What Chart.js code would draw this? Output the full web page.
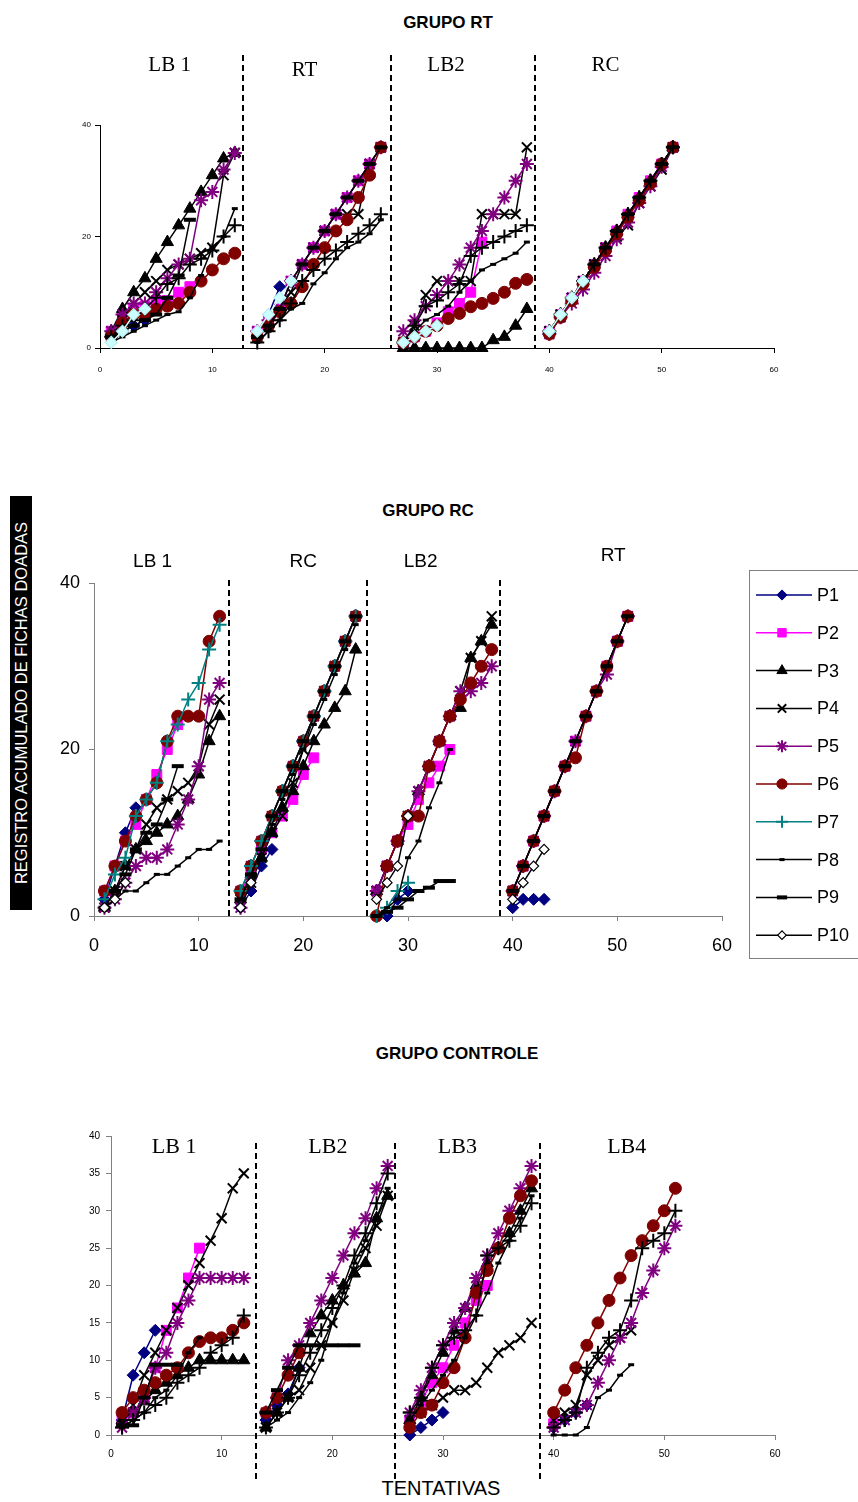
<!DOCTYPE html>
<html>
<head>
<meta charset="utf-8">
<script src="https://cdn.jsdelivr.net/npm/chart.js@4.4.1/dist/chart.umd.min.js"></script>
<style>
  body { margin: 0; background: #fff; width: 858px; height: 1502px; position: relative; overflow: hidden; font-family: Arial, "Liberation Sans", sans-serif; }
  .panel { position: absolute; left: 0; }
  .title { position: absolute; font-weight: bold; font-size: 17px; transform: translate(-50%, -50%); white-space: nowrap; }
  .ytitle { position: absolute; left: -186px; top: 692px; width: 414px; height: 22px; line-height: 22px; background: #000; color: #fff;
            font-size: 16.5px; text-align: center; white-space: nowrap; transform: rotate(-90deg); }
  .xtitle { position: absolute; left: 441px; top: 1488px; font-size: 20px; transform: translate(-50%, -50%); }
</style>
</head>
<body>
<div class="title" style="left:448px;top:23px">GRUPO RT</div>
<div class="title" style="left:428px;top:511px">GRUPO RC</div>
<div class="title" style="left:457px;top:1054px">GRUPO CONTROLE</div>
<div class="ytitle">REGISTRO ACUMULADO DE FICHAS DOADAS</div>
<div class="xtitle">TENTATIVAS</div>

<div class="panel" style="top:0"><canvas id="chartRT" width="858" height="390"></canvas></div>
<div class="panel" style="top:480px"><canvas id="chartRC" width="858" height="495"></canvas></div>
<div class="panel" style="top:1090px"><canvas id="chartCT" width="858" height="412"></canvas></div>

<script>
// first trial of each phase on the x axis
const trialStarts = [1, 14, 27, 40];
const participants = ['P1', 'P2', 'P3', 'P4', 'P5', 'P6', 'P7', 'P8', 'P9', 'P10'];

// GRUPO RT: phases LB 1, RT, LB2, RC
const rtP1 = [[2, 3, 4, 5], [3, 6, 11], [], []];
const rtP2 = [[3, 6, 7, 7.5, 8.5, 8.5, 10, 11], [3, 5, 7, 12, 15, 18, 21, 24, 27, 30, 33, 36], [1, 2, 3, 4.5, 6.5, 8, 10, 19], [3, 6, 9, 12, 15, 18, 21, 24, 27, 30, 33, 36]];
const rtP3 = [[3, 7, 10, 12.5, 16, 19, 22, 25, 28, 31, 34, 35], [], [0, 0, 0, 0, 0, 0, 0, 0, 1.4, 2, 4, 7], [3, 6, 9, 12, 15, 18, 21, 24, 27, 30, 33, 36]];
const rtP4 = [[2, 5, 8, 10, 12, 14, 15, 16, 17, 18, 31, 35], [2, 4, 7, 10, 15, 18, 21, 24, 24, 24, 33, 36], [1, 4, 9.5, 12, 12, 12, 12, 24, 24, 24, 24, 36], [3, 6, 9, 12, 15, 18, 20, 22, 26, 29, 32, 36]];
const rtP5 = [[3, 6, 8, 8, 10, 12.5, 15, 16, 26.5, 28, 32, 35], [3, 5, 7, 12, 15, 18, 21, 24, 27, 30, 33, 36], [3, 5, 7.5, 9.5, 12, 15, 18, 21, 24, 27, 30, 33], [2.5, 5.5, 8, 10.5, 13.5, 16.5, 19.5, 22.5, 26, 29, 32.5, 36]];
const rtP6 = [[2, 4.5, 6, 6, 7, 7.5, 8, 10, 12, 14, 16, 17], [2, 4, 6.5, 8, 11, 15, 18, 21, 23, 27, 31, 36], [1, 2, 3, 4, 5.3, 6.2, 7.4, 8, 8.9, 10, 11.6, 12.3], [2.5, 5.5, 8.5, 11.5, 14.5, 17.5, 20.5, 23.5, 26.5, 29.5, 33, 36]];
const rtP7 = [[2, 4, 5, 7, 9, 11.5, 12.5, 15, 16, 17.5, 20, 22], [1, 3, 5, 8, 12, 14, 16, 17.5, 19, 20.5, 22, 24], [1, 4, 7.5, 8.5, 10, 11.5, 16.5, 18, 19, 20, 21, 22], [3, 6, 9, 12, 15, 18, 21, 24, 27, 30, 33, 36]];
const rtP8 = [[1, 2, 3, 4, 5, 6, 6.5, 9, 13, 18, 20, 25], [1, 3, 5, 7, 8, 11.5, 13.5, 16, 18, 19, 20.5, 23], [1, 3, 5, 6, 7.5, 10, 12, 14, 15, 16, 17, 19], []];
const rtP9 = [[2, 3, 4, 5, 6, 9, 13, 23], [2, 4, 7, 12, 15, 18, 21, 24, 27, 30, 33, 36], [], [3, 6, 9, 12, 15, 18, 21, 24, 27, 30, 33, 36]];
const rtP10 = [[1, 3, 6, 7], [3, 6, 9, 12], [1, 2, 3, 4], [3, 6, 9, 12]];

// GRUPO RC: phases LB 1, RC, LB2, RT
const rcP1 = [[2, 6, 10, 13], [1, 3, 6, 8], [0, 0, 2, 3], [1, 2, 2, 2]];
const rcP2 = [[3, 6, 9, 11, 14, 17, 20, 23], [3, 5, 8, 10, 12, 14, 17, 19], [3, 6, 9, 11, 14, 16, 18, 20], [3, 6, 9, 12, 15, 18, 21, 24, 27, 30, 33, 36]];
const rcP3 = [[1, 3, 6, 8, 9, 10, 11, 12, 14, 17, 21, 24], [2, 5, 7, 10, 13, 15, 18, 21, 23, 25, 27, 32], [3, 6, 9, 12, 15, 18, 21, 24, 25, 31, 33, 35], []];
const rcP4 = [[1, 3, 6, 8, 11, 13, 14, 15, 16, 18, 23, 26], [2, 4, 7, 10, 12, 16, 20, 24, 27, 30, 33, 36], [3, 6, 9, 12, 15, 18, 21, 24, 27, 31, 33, 36], []];
const rcP5 = [[1, 2, 4, 6, 7, 7, 8, 11, 14, 18, 26, 28], [1, 6, 9, 12, 15, 18, 21, 24, 27, 30, 33, 36], [3, 6, 9, 12, 15, 18, 21, 24, 27, 27, 28, 30], [3, 6, 9, 12, 15, 18, 21, 24, 27, 29, 33, 36]];
const rcP6 = [[3, 6, 9, 12, 14, 16, 21, 24, 24, 24, 33, 36], [3, 6, 9, 12, 15, 18, 21, 24, 27, 30, 33, 36], [0, 6, 9, 12, 12, 18, 21, 24, 26, 28, 30, 32], [3, 6, 9, 12, 15, 18, 19, 24, 27, 30, 33, 36]];
const rcP7 = [[2, 5, 7, 12, 14, 16, 21, 23, 26, 28, 32, 35], [3, 6, 9, 12, 15, 18, 21, 24, 27, 30, 33, 36], [0, 1, 3, 4], []];
const rcP8 = [[1, 2, 3, 3, 4, 5, 5, 6, 7, 8, 8, 9], [2, 5, 8, 11, 14, 17, 20, 23, 26, 29, 32, 35], [0, 1, 2, 7, 9, 13, 16, 20], [3, 6, 9, 12, 15, 18, 21, 24, 27, 30, 33, 36]];
const rcP9 = [[1, 3, 5, 8, 10, 11, 14, 18], [2, 5, 8, 12, 15, 18, 21, 24, 27, 30, 33, 36], [0, 0.5, 1, 2, 3, 3.4, 4.2, 4.2], [3, 6, 9, 12, 15, 18, 21, 24, 27, 30, 33, 36]];
const rcP10 = [[1, 2, 4], [1, 4], [2, 4, 6, 12], [2, 4, 6, 8]];

// GRUPO CONTROLE: phases LB 1 .. LB4
const ctP1 = [[2, 8, 11, 14], [2, 4, 5.5, 9], [0, 1, 2, 3], [1, 2, 3, 4]];
const ctP2 = [[2, 3, 5, 9, 14, 17, 21, 25], [], [2, 4.5, 7, 9, 12, 15, 18, 20], [1.5]];
const ctP3 = [[2, 3, 4.5, 6, 7, 8, 9, 10, 10, 10, 10, 10], [1, 3, 5, 9, 13.6, 16, 18, 20, 21.6, 23, 29, 32], [2, 5, 8, 11, 14, 17, 20, 23, 25, 27, 30, 33], []];
const ctP4 = [[2, 4, 8, 11, 14, 17, 20, 23, 26, 29, 33, 35], [1, 3, 5, 6, 9, 12, 15, 18, 22, 25, 28, 32], [2, 3, 4, 5, 6, 6, 7, 9, 11, 12, 13, 15], [2, 3, 4, 8, 10, 12, 13, 14]];
const ctP5 = [[1, 3, 5, 9, 11, 15, 18, 21, 21, 21, 21, 21], [3, 5, 10, 12, 15, 18, 21, 24, 27, 29, 33, 36], [3, 6, 9, 12, 15, 17, 21, 24, 27, 30, 33, 36], [1, 2, 3, 4, 7, 10, 13, 15, 19, 22, 25, 28]];
const ctP6 = [[3, 5, 6, 7, 8, 9, 11, 12.5, 13, 13, 14, 15], [3, 5, 8, 11], [1, 3, 4, 7, 9, 13, 19, 22, 25, 29, 32, 34], [3, 6, 9, 12, 15, 18, 21, 24, 26, 28, 30, 33]];
const ctP7 = [[1, 2, 3, 4, 5, 7, 8, 9, 11, 12, 13, 16], [1, 3, 5, 8, 11, 14, 17, 20, 24, 27, 31, 35], [3, 5, 9, 12, 13, 14, 16, 24, 25, 26, 28, 31], [1, 2, 3, 9, 11, 13, 14, 18, 25, 26, 27, 30]];
const ctP8 = [[1, 2, 3, 5, 6, 8, 11, 13], [1, 2, 3, 5, 7, 10, 15, 19, 23, 26, 29, 33], [2, 4, 6, 8, 10, 13, 16, 19, 23, 26, 29, 32], [0, 0, 0, 1, 5, 6, 8, 9.4]];
const ctP9 = [[1.3, 1.3, 5, 9.4, 9.4, 9.4], [3, 6, 9, 12, 12, 12, 12, 12, 12], [], []];
const ctP10 = [[], [], [], []];

// phase dividers and labels (x in trial units)
const rtDividers = [12.7, 25.9, 38.7];
const rtPhases = ['LB 1', 'RT', 'LB2', 'RC'];
const rtPhaseX = [6.2, 18.2, 30.8, 45];
const rcDividers = [12.9, 26.1, 38.8];
const rcPhases = ['LB 1', 'RC', 'LB2', 'RT'];
const rcPhaseX = [5.6, 20, 31.2, 49.6];
const ctDividers = [13.1, 25.65, 38.75];
const ctPhases = ['LB 1', 'LB2', 'LB3', 'LB4'];
const ctPhaseX = [5.7, 19.6, 31.3, 46.6];

// marker look per participant
const baseStyles = [
    { pointStyle: 'rectRot', radius: 6, line: '#000080', fill: '#000080', border: '#000080', bw: 1 },
    { pointStyle: 'rect', radius: 7, line: '#FF00FF', fill: '#FF00FF', border: '#FF00FF', bw: 1 },
    { pointStyle: 'triangle', radius: 7, line: '#000000', fill: '#000000', border: '#000000', bw: 1 },
    { pointStyle: 'crossRot', radius: 7, line: '#000000', fill: '#000000', border: '#000000', bw: 2 },
    { pointStyle: 'star', radius: 7, line: '#800080', fill: '#800080', border: '#800080', bw: 2 },
    { pointStyle: 'circle', radius: 6, line: '#800000', fill: '#800000', border: '#800000', bw: 1 },
    { pointStyle: 'cross', radius: 7, line: '#008080', fill: '#008080', border: '#008080', bw: 2 },
    { pointStyle: 'line', radius: 3, line: '#000000', fill: '#000000', border: '#000000', bw: 3 },
    { pointStyle: 'line', radius: 6, line: '#000000', fill: '#000000', border: '#000000', bw: 4 },
    { pointStyle: 'rectRot', radius: 5, line: '#000000', fill: '#FFFFFF', border: '#000000', bw: 1.2 }
];

function toPoints(phases) {
    const pts = [];
    phases.forEach((vals, p) => {
        vals.forEach((v, i) => pts.push({ x: trialStarts[p] + i, y: v }));
        pts.push({ x: trialStarts[p] + vals.length, y: null });
    });
    return pts;
}

function buildDatasets(series, overrides, scale) {
    return series.map((phases, i) => {
        const s = Object.assign({}, baseStyles[i], overrides[i] || {});
        return {
            label: participants[i],
            data: toPoints(phases),
            showLine: true,
            spanGaps: false,
            borderColor: s.line,
            borderWidth: 1.5,
            pointStyle: s.pointStyle,
            pointRadius: s.radius * scale,
            pointHoverRadius: s.radius * scale,
            pointBackgroundColor: s.fill,
            pointBorderColor: s.border,
            pointBorderWidth: s.bw,
            clip: false,
            order: 10 - i
        };
    });
}

// dashed phase lines + phase names
const phasePlugin = {
    id: 'phases',
    afterDatasetsDraw(chart, args, o) {
        const { ctx } = chart;
        const x = chart.scales.x;
        ctx.save();
        ctx.strokeStyle = '#000';
        ctx.lineWidth = 2;
        ctx.setLineDash([6, 4]);
        o.dividers.forEach(v => {
            const px = Math.round(x.getPixelForValue(v));
            ctx.beginPath();
            ctx.moveTo(px, o.lineTop);
            ctx.lineTo(px, o.lineBottom);
            ctx.stroke();
        });
        ctx.setLineDash([]);
        ctx.fillStyle = '#000';
        ctx.font = o.font;
        ctx.textAlign = 'center';
        ctx.textBaseline = 'middle';
        o.names.forEach((t, i) => ctx.fillText(t, x.getPixelForValue(o.nameX[i]), o.nameY[i]));
        ctx.restore();
    }
};

// boxed legend of the middle panel
const legendBoxPlugin = {
    id: 'legendBox',
    afterDraw(chart, args, o) {
        if (!o.show) return;
        const { ctx } = chart;
        ctx.save();
        ctx.strokeStyle = '#808080';
        ctx.lineWidth = 1;
        ctx.strokeRect(o.left + 0.5, o.top + 0.5, o.width, o.height);
        chart.data.datasets.forEach((ds, i) => {
            const y = o.top + o.first + i * o.step;
            ctx.strokeStyle = ds.borderColor;
            ctx.lineWidth = 1.5;
            ctx.beginPath();
            ctx.moveTo(o.left + 7, y);
            ctx.lineTo(o.left + 63, y);
            ctx.stroke();
            ctx.fillStyle = ds.pointBackgroundColor;
            ctx.strokeStyle = ds.pointBorderColor;
            ctx.lineWidth = ds.pointBorderWidth;
            Chart.helpers.drawPoint(ctx, {
                pointStyle: ds.pointStyle, radius: ds.pointRadius * 0.85, rotation: 0, borderWidth: ds.pointBorderWidth
            }, o.left + 33, y);
            ctx.fillStyle = '#000';
            ctx.font = '18px Arial, "Liberation Sans"';
            ctx.textAlign = 'left';
            ctx.textBaseline = 'middle';
            ctx.fillText(ds.label, o.left + 68, y + 1);
        });
        ctx.restore();
    }
};

function makeChart(id, cfg) {
    const ctx = document.getElementById(id).getContext('2d');
    return new Chart(ctx, {
        type: 'scatter',
        data: { datasets: cfg.datasets },
        options: {
            responsive: false,
            animation: false,
            layout: { padding: { left: 0, right: 858 - cfg.right, top: cfg.top, bottom: 0 } },
            plugins: {
                legend: { display: false },
                tooltip: { enabled: false },
                phases: cfg.phases,
                legendBox: cfg.legend || { show: false }
            },
            scales: {
                x: {
                    type: 'linear', min: 0, max: 60,
                    afterFit: s => { s.height = cfg.xHeight; },
                    ticks: { stepSize: 10, color: '#000', font: { size: cfg.tickSize, family: 'Arial' }, padding: cfg.xPad, maxRotation: 0 },
                    grid: { drawOnChartArea: false, tickLength: 5, color: cfg.axisColor },
                    border: { color: cfg.axisColor, width: 1 }
                },
                y: {
                    min: 0, max: 40,
                    afterFit: s => { s.width = cfg.left; },
                    ticks: { stepSize: cfg.yStep, color: '#000', font: { size: cfg.tickSize, family: 'Arial' }, padding: cfg.yPad },
                    grid: { drawOnChartArea: false, tickLength: 5, color: cfg.axisColor },
                    border: { color: cfg.axisColor, width: 1 }
                }
            }
        },
        plugins: [phasePlugin, legendBoxPlugin]
    });
}

const rtOverrides = { 6: { line: '#000000', fill: '#000000', border: '#000000' }, 9: { line: '#CCFFFF', fill: '#CCFFFF', border: '#B8F0F0', radius: 6 } };
const rcOverrides = {};
const ctOverrides = { 6: { line: '#000000', fill: '#000000', border: '#000000' } };

makeChart('chartRT', {
    datasets: buildDatasets([rtP1, rtP2, rtP3, rtP4, rtP5, rtP6, rtP7, rtP8, rtP9, rtP10], rtOverrides, 1),
    left: 100, right: 774, top: 125, xHeight: 42, tickSize: 8, xPad: 12, yPad: 4, yStep: 20, axisColor: '#000',
    phases: { dividers: rtDividers, lineTop: 55, lineBottom: 348, names: rtPhases, nameX: rtPhaseX, nameY: [65, 70, 65, 65], font: '21px "Liberation Serif", "Times New Roman", serif' }
});

makeChart('chartRC', {
    datasets: buildDatasets([rcP1, rcP2, rcP3, rcP4, rcP5, rcP6, rcP7, rcP8, rcP9, rcP10], rcOverrides, 1),
    left: 94, right: 722, top: 103, xHeight: 59, tickSize: 18, xPad: 14, yPad: 9, yStep: 20, axisColor: '#808080',
    phases: { dividers: rcDividers, lineTop: 100, lineBottom: 436, names: rcPhases, nameX: rcPhaseX, nameY: [82, 82, 82, 76], font: '19px Arial, "Liberation Sans", sans-serif' },
    legend: { show: true, left: 749, top: 90, width: 130, height: 388, first: 25, step: 37.8 }
});

makeChart('chartCT', {
    datasets: buildDatasets([ctP1, ctP2, ctP3, ctP4, ctP5, ctP6, ctP7, ctP8, ctP9, ctP10], ctOverrides, 1),
    left: 111, right: 775, top: 46, xHeight: 67, tickSize: 10, xPad: 8, yPad: 6, yStep: 5, axisColor: '#808080',
    phases: { dividers: ctDividers, lineTop: 53, lineBottom: 390, names: ctPhases, nameX: ctPhaseX, nameY: [57, 57, 57, 57], font: '22px "Liberation Serif", "Times New Roman", serif' }
});
</script>
</body>
</html>
